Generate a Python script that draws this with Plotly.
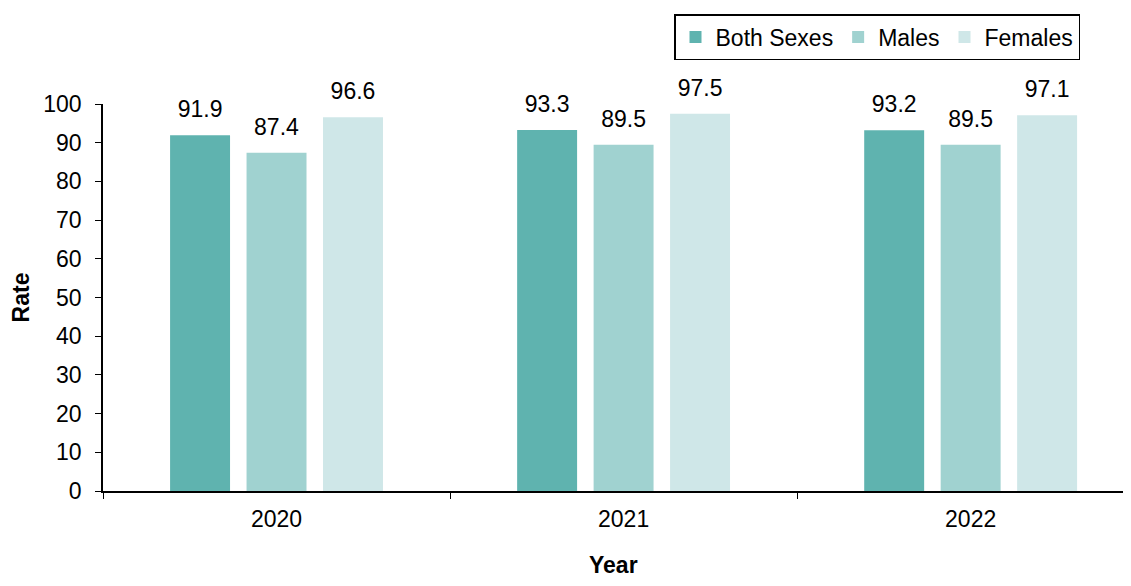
import plotly.graph_objects as go

years = ["2020", "2021", "2022"]
both_sexes = [91.9, 93.3, 93.2]
males = [87.4, 89.5, 89.5]
females = [96.6, 97.5, 97.1]
series_names = ["Both Sexes", "Males", "Females"]
colors = ["#5FB3AF", "#A0D2D0", "#CFE7E8"]

FONT = "Liberation Sans, Arial"
W, H = 1115, 570  # page body has 8px margin

fig = go.Figure()
for name, vals, col in zip(series_names, [both_sexes, males, females], colors):
    fig.add_trace(go.Bar(
        x=years, y=vals, name=name, marker_color=col, marker_line_width=0,
        text=[f"<span style='font-size:23px'>{v:.1f}</span><br> " for v in vals],
        textposition="outside", constraintext="none",
        textfont=dict(size=10, color="black", family=FONT),
        cliponaxis=False,
    ))

fig.update_layout(
    width=W, height=H,
    margin=dict(l=95, r=0, t=96, b=87, autoexpand=False),
    plot_bgcolor="white", paper_bgcolor="white",
    barmode="group", bargap=0.339, bargroupgap=0.216,
    font=dict(family=FONT, size=23, color="black"),
    showlegend=True,
    legend=dict(
        orientation="h", xref="container", yref="container",
        x=1072 / W, xanchor="right", y=1 - 6 / H, yanchor="top",
        bordercolor="black", borderwidth=1.5, font=dict(size=23),
        itemwidth=30, tracegroupgap=0,
    ),
    xaxis=dict(
        type="category", range=[-0.5, 2.439], automargin=False,
        showline=True, linecolor="black", linewidth=1.5,
        ticks="outside", tickson="boundaries", ticklen=6, tickcolor="black",
        ticklabelstandoff=7,
        showgrid=False,
    ),
    yaxis=dict(
        range=[0, 100], dtick=10, automargin=False,
        showline=True, linecolor="black", linewidth=1.5,
        ticks="outside", ticklen=6, tickcolor="black",
        ticklabelstandoff=9,
        showgrid=False, zeroline=False,
        title=dict(text="<b>Rate</b>", font=dict(size=23), standoff=12),
    ),
    annotations=[dict(
        text="<b>Year</b>", xref="paper", yref="paper", x=0.5, y=0,
        xanchor="center", yanchor="top", yshift=-59, showarrow=False,
        font=dict(size=23),
    )],
)

fig.write_html("out.html")
